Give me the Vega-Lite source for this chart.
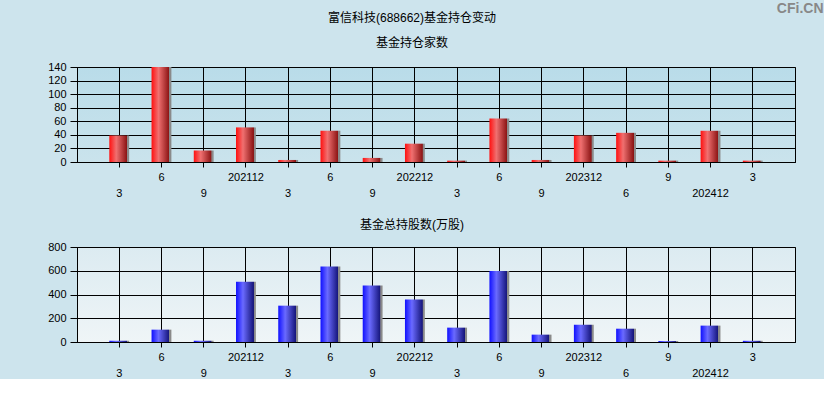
{
  "$schema": "https://vega.github.io/schema/vega-lite/v6.json",
  "background": "#cde4ed",
  "padding": {"left": 47, "top": 2, "right": 0, "bottom": 0},
  "title": {
    "text": "CFi.CN",
    "anchor": "end",
    "frame": "bounds",
    "fontSize": 14,
    "fontWeight": "bold",
    "color": "#888888",
    "font": "Liberation Sans",
    "offset": -5,
    "dx": 28
  },
  "data": {
    "values": [
      {"period": "2021-03", "funds": 39, "shares": 10},
      {"period": "2021-06", "funds": 140, "shares": 104},
      {"period": "2021-09", "funds": 17, "shares": 11},
      {"period": "2021-12", "funds": 51, "shares": 508},
      {"period": "2022-03", "funds": 3, "shares": 306},
      {"period": "2022-06", "funds": 46, "shares": 635},
      {"period": "2022-09", "funds": 6, "shares": 475},
      {"period": "2022-12", "funds": 27, "shares": 357},
      {"period": "2023-03", "funds": 2, "shares": 121},
      {"period": "2023-06", "funds": 64, "shares": 598},
      {"period": "2023-09", "funds": 3, "shares": 62},
      {"period": "2023-12", "funds": 39, "shares": 146},
      {"period": "2024-06", "funds": 43, "shares": 112},
      {"period": "2024-09", "funds": 2, "shares": 8},
      {"period": "2024-12", "funds": 46, "shares": 138},
      {"period": "2025-03", "funds": 2, "shares": 10}
    ]
  },
  "spacing": 19,
  "vconcat": [
    {
      "width": 718,
      "height": 95,
      "title": {
        "text": "富信科技(688662)基金持仓变动",
        "subtitle": "基金持仓家数",
        "frame": "group",
        "dx": -24,
        "offset": 11.5,
        "subtitlePadding": 13
      },
      "view": {
        "fill": {
          "gradient": "linear", "x1": 0, "y1": 0, "x2": 0, "y2": 1,
          "stops": [{"offset": 0, "color": "#b9dce9"}, {"offset": 1, "color": "#cae3ec"}]
        }
      },
      "mark": {
        "type": "bar",
        "color": {
          "gradient": "linear",
          "stops": [
            {"offset": 0, "color": "#ff1010"},
            {"offset": 0.35, "color": "#f07070"},
            {"offset": 0.88, "color": "#8c1414"},
            {"offset": 0.9, "color": "#8a8a8a"},
            {"offset": 1, "color": "#8a8a8a"}
          ]
        }
      },
      "encoding": {
        "x": {
          "field": "period",
          "type": "nominal",
          "sort": null,
          "title": null,
          "scale": {"paddingInner": 0.53, "paddingOuter": 0.765}
        },
        "y": {
          "field": "funds",
          "type": "quantitative",
          "title": null,
          "scale": {"domain": [0, 140], "nice": false},
          "axis": {"values": [0, 20, 40, 60, 80, 100, 120, 140]}
        }
      }
    },
    {
      "width": 718,
      "height": 95,
      "title": {
        "text": "基金总持股数(万股)",
        "frame": "group",
        "dx": -24,
        "offset": 9.5
      },
      "view": {
        "fill": {
          "gradient": "linear", "x1": 0, "y1": 0, "x2": 0, "y2": 1,
          "stops": [{"offset": 0, "color": "#dcebf1"}, {"offset": 1, "color": "#eff5f7"}]
        }
      },
      "mark": {
        "type": "bar",
        "color": {
          "gradient": "linear",
          "stops": [
            {"offset": 0, "color": "#1010ff"},
            {"offset": 0.35, "color": "#6a6aff"},
            {"offset": 0.88, "color": "#16167c"},
            {"offset": 0.9, "color": "#8a8a8a"},
            {"offset": 1, "color": "#8a8a8a"}
          ]
        }
      },
      "encoding": {
        "x": {
          "field": "period",
          "type": "nominal",
          "sort": null,
          "title": null,
          "scale": {"paddingInner": 0.53, "paddingOuter": 0.765}
        },
        "y": {
          "field": "shares",
          "type": "quantitative",
          "title": null,
          "scale": {"domain": [0, 800], "nice": false},
          "axis": {"values": [0, 200, 400, 600, 800]}
        }
      }
    }
  ],
  "config": {
    "font": "Liberation Sans, Noto Sans CJK SC",
    "view": {"stroke": "#000000", "strokeWidth": 1},
    "title": {
      "fontSize": 12,
      "fontWeight": "normal",
      "color": "#000000",
      "subtitleFontSize": 12,
      "subtitleColor": "#000000",
      "subtitleFont": "Liberation Sans, Noto Sans CJK SC",
      "anchor": "middle"
    },
    "axis": {
      "domainColor": "#000000",
      "tickColor": "#000000",
      "gridColor": "#000000",
      "gridOpacity": 1,
      "gridWidth": 1,
      "domainWidth": 1,
      "labelColor": "#000000",
      "labelFontSize": 11,
      "labelFont": "Liberation Sans"
    },
    "axisY": {
      "grid": true,
      "tickSize": 7,
      "labelPadding": 4
    },
    "axisX": {
      "grid": true,
      "bandPosition": 0.5,
      "tickSize": 5,
      "labelPadding": 4,
      "labelAngle": 0,
      "labelOverlap": false,
      "labelLineHeight": 16.5,
      "labelExpr": "indexof(['2021-03','2021-06','2021-09','2021-12','2022-03','2022-06','2022-09','2022-12','2023-03','2023-06','2023-09','2023-12','2024-06','2024-09','2024-12','2025-03'], datum.value) % 2 == 1 ? [(slice(datum.value, 5) == '12' ? replace(datum.value, '-', '') : toString(toNumber(slice(datum.value, 5)))), ''] : ['', (slice(datum.value, 5) == '12' ? replace(datum.value, '-', '') : toString(toNumber(slice(datum.value, 5))))]"
    }
  }
}
